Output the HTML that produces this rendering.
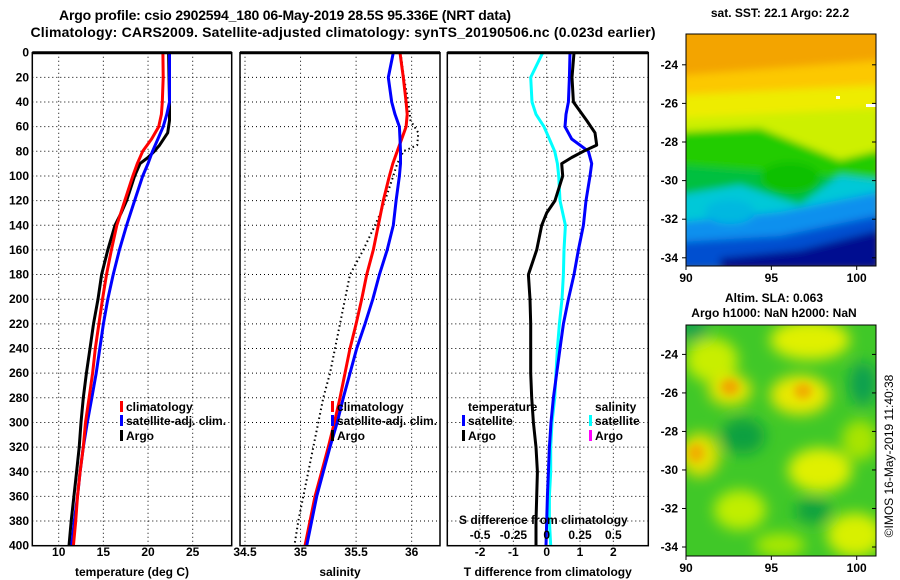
<!DOCTYPE html>
<html><head><meta charset="utf-8"><style>
html,body{margin:0;padding:0;background:#fff}
svg{display:block;font-family:"Liberation Sans",sans-serif;font-weight:bold}
</style></head><body>
<svg id="c" width="900" height="580" viewBox="0 0 900 580" xmlns="http://www.w3.org/2000/svg">
<defs>
<filter id="bl" x="-0.2" y="-0.2" width="1.4" height="1.4"><feGaussianBlur stdDeviation="4"/></filter>
<filter id="bl2" x="-0.5" y="-0.5" width="2" height="2"><feGaussianBlur stdDeviation="7"/></filter>
<clipPath id="m1"><rect x="686" y="34" width="190" height="232"/></clipPath>
<clipPath id="m2"><rect x="686" y="325" width="190" height="231"/></clipPath>
</defs>
<text x="285" y="20" font-size="14" text-anchor="middle" textLength="452">Argo profile: csio 2902594_180 06-May-2019 28.5S 95.336E (NRT data)</text>
<text x="343" y="37" font-size="14" text-anchor="middle" textLength="625">Climatology: CARS2009. Satellite-adjusted climatology: synTS_20190506.nc (0.023d earlier)</text>

<g>
<g clip-path="url(#m1)">
<rect x="680" y="30" width="200" height="240" fill="#f3a400"/>
<g filter="url(#bl)">
<polygon points="680,75 880,60 880,270 680,270" fill="#fcc800"/>
<polygon points="680,95 880,85 880,270 680,270" fill="#eeec00"/>
<polygon points="680,118 880,108 880,270 680,270" fill="#cdf000"/>
<polygon points="680,132 760,128 840,160 880,150 880,270 680,270" fill="#22cc00"/>
<polygon points="680,165 880,180 880,270 680,270" fill="#00c040"/>
<polygon points="680,195 740,185 800,205 840,175 880,180 880,270 680,270" fill="#00c8d8"/>
<polygon points="680,222 780,212 880,192 880,270 680,270" fill="#1090ee"/>
<polygon points="680,242 780,236 880,215 880,270 680,270" fill="#0050d0"/>
<polygon points="720,258 800,250 880,230 880,270 720,270" fill="#001090"/>
<ellipse cx="790" cy="178" rx="30" ry="16" fill="#10c000"/>
<ellipse cx="730" cy="212" rx="25" ry="12" fill="#00b8e0"/>
</g>
<rect x="836" y="96" width="4" height="3" fill="#fff"/><rect x="866" y="104" width="10" height="3" fill="#fff"/>
</g>
<rect x="686" y="34" width="190" height="232" fill="none" stroke="#000" stroke-width="1"/>
</g>

<g>
<g clip-path="url(#m2)">
<rect x="680" y="320" width="200" height="240" fill="#40c828"/>
<g filter="url(#bl2)">
<ellipse cx="810" cy="340" rx="40" ry="20" fill="#e0f000"/>
<ellipse cx="712" cy="360" rx="26" ry="22" fill="#c8ee00"/>
<ellipse cx="800" cy="395" rx="30" ry="20" fill="#e8e800"/>
<ellipse cx="730" cy="390" rx="22" ry="16" fill="#e0e400"/>
<ellipse cx="820" cy="470" rx="32" ry="22" fill="#e0f000"/>
<ellipse cx="700" cy="455" rx="20" ry="22" fill="#e0e000"/>
<ellipse cx="740" cy="510" rx="26" ry="20" fill="#c0ee00"/>
<ellipse cx="855" cy="535" rx="28" ry="22" fill="#d8f000"/>
<ellipse cx="780" cy="545" rx="25" ry="12" fill="#a8e800"/>
<ellipse cx="860" cy="440" rx="18" ry="20" fill="#a8e400"/>
<ellipse cx="743" cy="436" rx="22" ry="18" fill="#10a040"/>
<ellipse cx="863" cy="384" rx="14" ry="22" fill="#10a050"/>
<ellipse cx="813" cy="511" rx="18" ry="12" fill="#10a040"/>
<ellipse cx="693" cy="329" rx="15" ry="10" fill="#10a050"/>
</g>
<g filter="url(#bl)">
<ellipse cx="730" cy="387" rx="9" ry="8" fill="#f0a800"/>
<ellipse cx="803" cy="391" rx="9" ry="8" fill="#f0b000"/>
<ellipse cx="696" cy="453" rx="8" ry="9" fill="#f0b000"/>
</g>
</g>
<rect x="686" y="325" width="190" height="231" fill="none" stroke="#000" stroke-width="1"/>
</g>

<text x="780" y="17" font-size="12" text-anchor="middle">sat. SST: 22.1 Argo: 22.2</text>
<text x="774" y="302" font-size="12" text-anchor="middle">Altim. SLA: 0.063</text>
<text x="774" y="317" font-size="12" text-anchor="middle">Argo h1000: NaN h2000: NaN</text>
<text transform="translate(893,456) rotate(-90)" font-size="12" font-weight="normal" text-anchor="middle">©IMOS 16-May-2019 11:40:38</text>
<g id="g"></g>
</svg>
<script>
const depths=[0,20,40,50,60,70,80,90,100,120,140,160,180,200,220,240,260,280,300,320,340,360,380,400];
const tClim=[21.66,21.7,21.6,21.5,21.2,20.4,19.4,18.8,18.3,17.4,16.5,15.9,15.35,14.9,14.5,14.1,13.8,13.4,13.0,12.75,12.4,12.1,11.9,11.65];
const tSat=[22.4,22.4,22.4,22.1,21.7,21.1,20.5,20.0,19.4,18.5,17.6,16.8,16.1,15.5,15.0,14.6,14.2,13.7,13.2,12.75,12.4,12.1,11.75,11.45];
const argoDepths=[0,20,40,55,65,75,80,85,90,100,120,130,140,160,180,200,220,240,260,280,300,320,340,360,380,400];
const tArgo=[22.3,22.35,22.4,22.4,22.2,21.3,20.7,20.0,19.1,18.5,17.6,17.0,16.3,15.5,14.8,14.4,13.9,13.5,13.1,12.75,12.5,12.3,12.0,11.7,11.4,11.15];
const sClim=[35.895,35.925,35.95,35.96,35.95,35.91,35.87,35.83,35.8,35.745,35.7,35.655,35.595,35.55,35.5,35.445,35.4,35.355,35.305,35.25,35.19,35.13,35.085,35.04];
const sSat=[35.835,35.79,35.82,35.85,35.89,35.895,35.9,35.9,35.89,35.86,35.835,35.78,35.71,35.65,35.58,35.505,35.445,35.385,35.33,35.265,35.205,35.145,35.1,35.055];
const sArgo=[35.9,35.93,35.97,35.99,36.06,36.05,35.925,35.9,35.87,35.835,35.76,35.72,35.67,35.565,35.445,35.4,35.355,35.31,35.265,35.205,35.16,35.115,35.07,35.025,34.98,34.945];
const dTSat=[0.7,0.68,0.65,0.58,0.55,0.75,1.25,1.35,1.3,1.18,1.1,0.95,0.82,0.65,0.5,0.4,0.3,0.2,0.13,0.08,0.05,0.02,0,-0.02];
const dTArgo=[0.82,0.76,0.8,1.2,1.45,1.5,1.1,0.75,0.45,0.48,0.25,0.0,-0.15,-0.3,-0.55,-0.5,-0.48,-0.48,-0.48,-0.45,-0.4,-0.32,-0.28,-0.3,-0.32,-0.32];
const dSSat=[-0.03,-0.12,-0.11,-0.08,-0.02,0.02,0.06,0.08,0.09,0.1,0.14,0.13,0.125,0.115,0.095,0.08,0.07,0.06,0.04,0.03,0.03,0.02,0.02,0.03];
const depthTicks=[0,20,40,60,80,100,120,140,160,180,200,220,240,260,280,300,320,340,360,380,400];
const tTicks=[10,15,20,25];
const sTicks=[34.5,35,35.5,36];
const dTTicks=[-2,-1,0,1,2];
const dSTicks=[-0.5,-0.25,0,0.25,0.5];

const NS="http://www.w3.org/2000/svg";
const G=document.getElementById('g');
function el(t,a,p){const e=document.createElementNS(NS,t);for(const k in a)e.setAttribute(k,a[k]);(p||G).appendChild(e);return e;}
const Y0=52.7,Y1=545.7;
const yD=d=>Y0+(Y1-Y0)*d/400;
const xT=v=>58.7+(v-10)*8.933;
const xS=v=>245+(v-34.5)*111.1;
const xDT=v=>546.7+v*33.33;
const xDS=v=>546.7+v*133.3;
const panels=[[32.3,231.7,'temperature-panel',tTicks,xT,'temperature (deg C)'],[240,440,'salinity-panel',sTicks,xS,'salinity'],[447.3,648.3,'difference-panel',dTTicks,xDT,'T difference from climatology']];
panels.forEach((p,i)=>{
  const g=el('g',{});
  
  
  depthTicks.forEach(d=>{if(d>0&&d<400){const l=el('line',{x1:p[0],x2:p[1],y1:yD(d),y2:yD(d),stroke:'#000','stroke-width':1,'stroke-dasharray':'1,3'},g);}});
  p[3].forEach(v=>{const x=p[4](v);
    const l=el('line',{x1:x,x2:x,y1:Y0,y2:Y1,stroke:'#000','stroke-width':1,'stroke-dasharray':'1,3'},g);
    
    const t=el('text',{x:x,y:556,'font-size':12,'text-anchor':'middle'},g);t.textContent=String(v);
    });
  const t=el('text',{x:(p[0]+p[1])/2,y:576,'font-size':12,'text-anchor':'middle'},g);t.textContent=p[5];
  
});
depthTicks.forEach(d=>{const t=el('text',{x:29,y:yD(d)+4,'font-size':12,'text-anchor':'end'});t.textContent=String(d);
  });
function line(xs,ds,xf,color,name,dash,w){
  const pts=xs.map((v,i)=>xf(v).toFixed(1)+','+yD(ds[i]).toFixed(1)).join(' ');
  const a={points:pts,fill:'none',stroke:color,'stroke-width':w||3,'stroke-linejoin':'round'};
  if(dash)a['stroke-dasharray']=dash;
  const e=el('polyline',a);
  
  
}
line(dSSat,depths,xDS,'#00ffff','salinity-satellite-diff-line');
line(dTSat,depths,xDT,'#0000ff','temperature-satellite-diff-line');
line(dTArgo,argoDepths,xDT,'#000','temperature-argo-diff-line');
line(sArgo,argoDepths,xS,'#000','salinity-argo-line','1.5,3',2);
line(sClim,depths,xS,'#ff0000','salinity-climatology-line');
line(sSat,depths,xS,'#0000ff','salinity-satellite-line');
line(tArgo,argoDepths,xT,'#000','temperature-argo-line');
line(tSat,depths,xT,'#0000ff','temperature-satellite-line');
line(tClim,depths,xT,'#ff0000','temperature-climatology-line');
panels.forEach(p=>{
  const r=el('rect',{x:p[0],y:Y0,width:p[1]-p[0],height:Y1-Y0,fill:'none',stroke:'#000','stroke-width':1.5});
  
  const tl=el('line',{x1:p[0],x2:p[1],y1:Y0,y2:Y0,stroke:'#000','stroke-width':3});
  
});
function legend(x,y,color,label){
  const g=el('g',{});
  
  
  if(color)el('rect',{x:x-6,y:y-10,width:3,height:11,fill:color},g);
  const t=el('text',{x:x,y:y,'font-size':12},g);t.textContent=label;
}
legend(126,411,'#ff0000','climatology');legend(126,425,'#0000ff','satellite-adj. clim.');legend(126,440,'#000','Argo');
legend(337,411,'#ff0000','climatology');legend(337,425,'#0000ff','satellite-adj. clim.');legend(337,440,'#000','Argo');
legend(468,411,null,'temperature');legend(468,425,'#0000ff','satellite');legend(468,440,'#000','Argo');
legend(595,411,null,'salinity');legend(595,425,'#00ffff','satellite');legend(595,440,'#ff00ff','Argo');
const st=el('text',{x:459,y:524,'font-size':12});st.textContent='S difference from climatology';

dSTicks.forEach(v=>{const t=el('text',{x:xDS(v),y:539,'font-size':12,'text-anchor':'middle'});t.textContent=String(v);
  });
const lat=[-24,-26,-28,-30,-32,-34],lon=[90,95,100];
[[64.8,19.3,266],[354.4,19.26,556]].forEach(m=>{
  lat.forEach(v=>{const y=m[0]+(-24-v)*m[1];
    const t=el('text',{x:678,y:y+4,'font-size':12,'text-anchor':'end'});t.textContent=String(v);
    
    el('line',{x1:682,x2:686,y1:y,y2:y,stroke:'#000'});el('line',{x1:872,x2:876,y1:y,y2:y,stroke:'#000'});});
  lon.forEach(v=>{const x=686+(v-90)*17.07;
    const t=el('text',{x:x,y:m[2]+16,'font-size':12,'text-anchor':'middle'});t.textContent=String(v);
    
    el('line',{x1:x,x2:x,y1:m[2],y2:m[2]+4,stroke:'#000'});});
});
</script>
</body></html>
